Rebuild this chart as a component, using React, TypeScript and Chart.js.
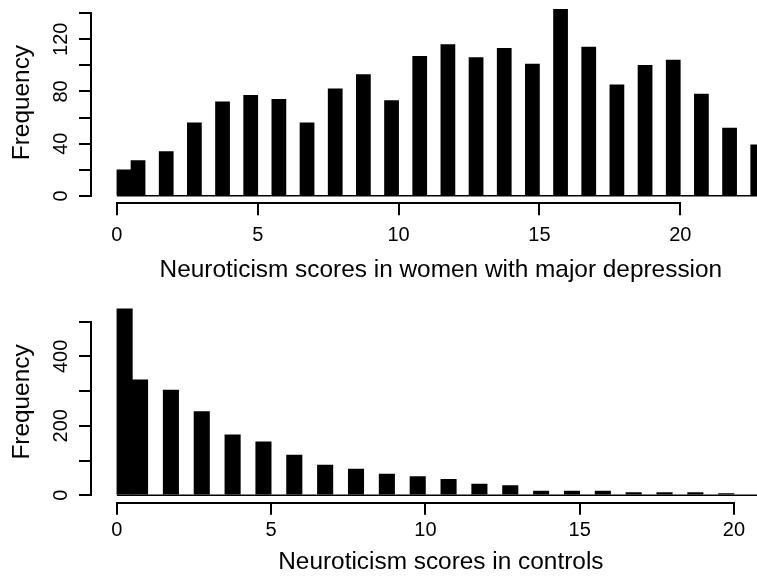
import React, { useEffect, useRef } from 'react';
import { Chart, registerables } from 'chart.js';

Chart.register(...registerables);

const FONT = "'Liberation Sans', Arial, Helvetica, sans-serif";

// ---- Top panel: women with major depression ----
const depScores = [0, 1, 2, 3, 4, 5, 6, 7, 8, 9, 10, 11, 12, 13, 14, 15, 16, 17, 18, 19, 20, 21, 22, 23];
const depCounts = [20, 27, 34, 56, 72, 77, 74, 56, 82, 93, 73, 107, 116, 106, 113, 101, 143, 114, 85, 100, 104, 78, 52, 39];
const depBreakRange = [0, 23];
const depYTicks = [0, 20, 40, 60, 80, 100, 120, 140];
const depYLabels = [0, 40, 80, 120];
const depXTicks = [0, 5, 10, 15, 20];
const depXTitle = 'Neuroticism scores in women with major depression';

// ---- Bottom panel: controls ----
const ctlScores = [0, 1, 2, 3, 4, 5, 6, 7, 8, 9, 10, 11, 12, 13, 14, 15, 16, 17, 18, 19, 20];
const ctlCounts = [537, 332, 303, 241, 174, 154, 116, 87, 75, 61, 54, 46, 32, 28, 12, 12, 12, 8, 8, 8, 5];
const ctlBreakRange = [0, 21];
const ctlYTicks = [0, 100, 200, 300, 400, 500];
const ctlYLabels = [0, 200, 400];
const ctlXTicks = [0, 5, 10, 15, 20];
const ctlXTitle = 'Neuroticism scores in controls';

const yTitle = 'Frequency';

// R hist() with breaks every 0.5 (right-closed, lowest included):
// score 0 -> bin [0, 0.5], score s>0 -> bin (s-0.5, s]
const binMid = (s: number) => (s === 0 ? 0.25 : s - 0.25);
// R default axis extension of 4%
const ext = (lo: number, hi: number) => [lo - 0.04 * (hi - lo), hi + 0.04 * (hi - lo)];

const LW = 2;
const TICK_FONT = 20;
const TITLE_FONT = 24.4;
const alignP = (p: number, w: number) => Math.round(p - w / 2) + w / 2;

const rAxisLines = {
  id: 'rAxisLines',
  afterDraw(chart: any) {
    const { ctx, chartArea } = chart;
    const xs = chart.scales.x;
    const ys = chart.scales.y;
    const xt = xs.ticks;
    const yt = ys.ticks;
    ctx.save();
    ctx.strokeStyle = '#000';
    ctx.lineWidth = LW;
    ctx.lineCap = 'square';
    ctx.beginPath();
    const yb = alignP(chartArea.bottom, LW);
    ctx.moveTo(alignP(xs.getPixelForValue(xt[0].value), LW), yb);
    ctx.lineTo(alignP(xs.getPixelForValue(xt[xt.length - 1].value), LW), yb);
    const xl = alignP(chartArea.left, LW);
    ctx.moveTo(xl, alignP(ys.getPixelForValue(yt[0].value), LW));
    ctx.lineTo(xl, alignP(ys.getPixelForValue(yt[yt.length - 1].value), LW));
    ctx.stroke();
    ctx.restore();
  },
};

type Panel = {
  scores: number[];
  counts: number[];
  breakRange: number[];
  yTicks: number[];
  yLabels: number[];
  xTicks: number[];
  xTitle: string;
  height: number;
  padTop: number;
  xScaleH: number;
  xTickPad: number;
  xTitlePadBottom: number;
};

function makeConfig(p: Panel): any {
  const [xmin, xmax] = ext(p.breakRange[0], p.breakRange[1]);
  const [ymin, ymax] = ext(0, Math.max(...p.counts));
  return {
    type: 'bar',
    data: {
      datasets: [
        {
          type: 'bar',
          data: p.scores.map((s, i) => ({ x: binMid(s), y: p.counts[i] })),
          backgroundColor: '#000',
          borderWidth: 0,
          barPercentage: 1,
          categoryPercentage: 1,
          order: 1,
        },
        {
          type: 'line',
          data: [
            { x: p.breakRange[0], y: 0 },
            { x: p.breakRange[1], y: 0 },
          ],
          borderColor: '#000',
          borderWidth: 1.5,
          pointRadius: 0,
          order: 0,
        },
      ],
    },
    options: {
      responsive: false,
      animation: false,
      events: [],
      layout: { padding: { top: p.padTop, right: 9.3, bottom: 0, left: 0 } },
      plugins: { legend: { display: false }, tooltip: { enabled: false } },
      scales: {
        x: {
          type: 'linear',
          position: 'bottom',
          min: xmin,
          max: xmax,
          offset: false,
          afterBuildTicks: (s: any) => {
            s.ticks = p.xTicks.map((v) => ({ value: v }));
          },
          afterFit: (s: any) => {
            s.height = p.xScaleH;
            s.paddingLeft = 0;
            s.paddingRight = 0;
            s.paddingTop = 0;
            s.paddingBottom = 0;
          },
          grid: {
            display: true,
            offset: false,
            drawOnChartArea: false,
            drawTicks: true,
            tickLength: 12,
            color: '#000',
            lineWidth: LW,
          },
          border: { display: false },
          ticks: {
            autoSkip: false,
            maxRotation: 0,
            minRotation: 0,
            padding: p.xTickPad,
            color: '#000',
            font: { family: FONT, size: TICK_FONT },
            callback: (v: number) => String(v),
          },
          title: {
            display: true,
            text: p.xTitle,
            color: '#000',
            font: { family: FONT, size: TITLE_FONT },
            padding: { top: 0, bottom: p.xTitlePadBottom },
          },
        },
        y: {
          type: 'linear',
          position: 'left',
          min: ymin,
          max: ymax,
          afterBuildTicks: (s: any) => {
            s.ticks = p.yTicks.map((v) => ({ value: v }));
          },
          afterFit: (s: any) => {
            s.width = 91;
            s.paddingLeft = 0;
            s.paddingRight = 0;
            s.paddingTop = 0;
            s.paddingBottom = 0;
          },
          grid: {
            display: true,
            drawOnChartArea: false,
            drawTicks: true,
            tickLength: 12,
            color: '#000',
            lineWidth: LW,
          },
          border: { display: false },
          ticks: {
            autoSkip: false,
            minRotation: 90,
            maxRotation: 90,
            crossAlign: 'center',
            padding: 1.0,
            color: '#000',
            font: { family: FONT, size: TICK_FONT },
            callback: (v: number) => (p.yLabels.includes(v) ? String(v) : ''),
          },
          title: {
            display: true,
            text: yTitle,
            color: '#000',
            font: { family: FONT, size: TITLE_FONT },
            padding: { top: 7.4, bottom: 0 },
          },
        },
      },
    },
    plugins: [rAxisLines],
  };
}

const topPanel: Panel = {
  scores: depScores,
  counts: depCounts,
  breakRange: depBreakRange,
  yTicks: depYTicks,
  yLabels: depYLabels,
  xTicks: depXTicks,
  xTitle: depXTitle,
  height: 290,
  padTop: 1.8,
  xScaleH: 86.7,
  xTickPad: 7.7,
  xTitlePadBottom: 5.4,
};

const bottomPanel: Panel = {
  scores: ctlScores,
  counts: ctlCounts,
  breakRange: ctlBreakRange,
  yTicks: ctlYTicks,
  yLabels: ctlYLabels,
  xTicks: ctlXTicks,
  xTitle: ctlXTitle,
  height: 289,
  padTop: 11.3,
  xScaleH: 76.3,
  xTickPad: 3.6,
  xTitlePadBottom: 2.1,
};

function HistPanel({ panel, top }: { panel: Panel; top: number }) {
  const ref = useRef<HTMLCanvasElement | null>(null);
  useEffect(() => {
    if (!ref.current) return;
    const chart = new Chart(ref.current, makeConfig(panel));
    return () => chart.destroy();
  }, [panel]);
  return (
    <div style={{ position: 'absolute', left: 0, top, width: 800, height: panel.height }}>
      <canvas ref={ref} width={800} height={panel.height} style={{ display: 'block' }} />
    </div>
  );
}

export default function App() {
  return (
    <div
      style={{
        position: 'absolute',
        left: 0,
        top: 0,
        width: 757,
        height: 579,
        overflow: 'hidden',
        background: '#fff',
      }}
    >
      <HistPanel panel={topPanel} top={0} />
      <HistPanel panel={bottomPanel} top={290} />
    </div>
  );
}
